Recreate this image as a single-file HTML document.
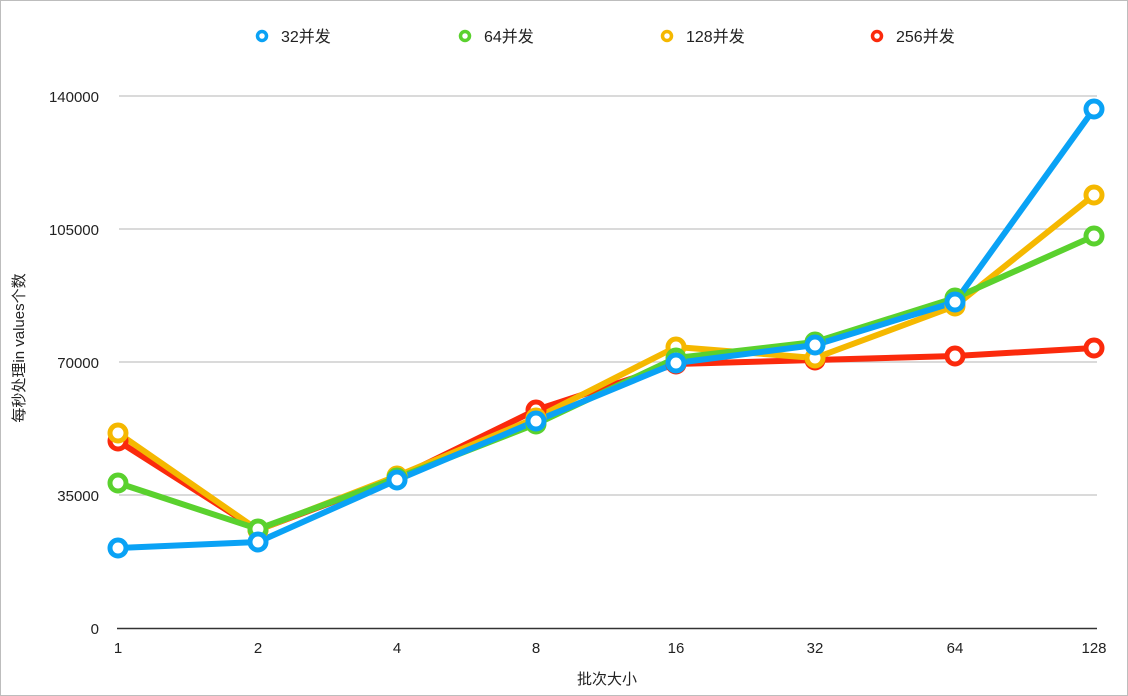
<!DOCTYPE html>
<html><head><meta charset="utf-8"><style>
html,body{margin:0;padding:0;background:#fff}
svg{display:block}
text{font-family:"Liberation Sans","Noto Sans CJK SC",sans-serif;fill:#222}
</style></head><body>
<svg width="1128" height="696" viewBox="0 0 1128 696">
<rect x="0.5" y="0.5" width="1127" height="695" fill="#fff" stroke="#bdbdbd"/>
<g stroke="#c4c4c4" stroke-width="1.2">
<line x1="119" y1="96" x2="1097" y2="96"/>
<line x1="119" y1="229" x2="1097" y2="229"/>
<line x1="119" y1="362" x2="1097" y2="362"/>
<line x1="119" y1="495" x2="1097" y2="495"/>
</g>
<line x1="117" y1="628.5" x2="1097" y2="628.5" stroke="#333" stroke-width="1.5"/>
<g font-size="15" text-anchor="end">
<text x="99" y="102">140000</text>
<text x="99" y="235">105000</text>
<text x="99" y="368">70000</text>
<text x="99" y="501">35000</text>
<text x="99" y="634">0</text>
</g>
<g font-size="15" text-anchor="middle">
<text x="118" y="653">1</text><text x="258" y="653">2</text><text x="397" y="653">4</text><text x="536" y="653">8</text>
<text x="676" y="653">16</text><text x="815" y="653">32</text><text x="955" y="653">64</text><text x="1094" y="653">128</text>
<text x="607" y="684">批次大小</text>
</g>
<text font-size="15" text-anchor="middle" transform="translate(24,348) rotate(-90)">每秒处理in values个数</text>
<g font-size="16">
<circle cx="262" cy="36" r="4.5" fill="#fff" stroke="#0aa2f5" stroke-width="3.5"/><text x="281" y="42">32并发</text>
<circle cx="465" cy="36" r="4.5" fill="#fff" stroke="#5ad12e" stroke-width="3.5"/><text x="484" y="42">64并发</text>
<circle cx="667" cy="36" r="4.5" fill="#fff" stroke="#f5b800" stroke-width="3.5"/><text x="686" y="42">128并发</text>
<circle cx="877" cy="36" r="4.5" fill="#fff" stroke="#fb2a0c" stroke-width="3.5"/><text x="896" y="42">256并发</text>
</g>
<g fill="none" stroke-width="6" stroke-linejoin="round">
<polyline stroke="#fb2a0c" points="118,441 258,530 397,478 536,410 676,364 815,360 955,356 1094,348"/>
<polyline stroke="#f5b800" points="118,433 258,530 397,476 536,418 676,347 815,358 955,306 1094,195"/>
<polyline stroke="#5ad12e" points="118,483 258,529 397,478 536,424 676,358 815,342 955,298 1094,236"/>
<polyline stroke="#0aa2f5" points="118,548 258,542 397,480 536,421 676,363 815,345 955,302 1094,109"/>
</g>
<g fill="#fff" stroke-width="5">
<g stroke="#fb2a0c"><circle cx="118" cy="441" r="8"/><circle cx="258" cy="530" r="8"/><circle cx="397" cy="478" r="8"/><circle cx="536" cy="410" r="8"/><circle cx="676" cy="364" r="8"/><circle cx="815" cy="360" r="8"/><circle cx="955" cy="356" r="8"/><circle cx="1094" cy="348" r="8"/></g>
<g stroke="#f5b800"><circle cx="118" cy="433" r="8"/><circle cx="258" cy="530" r="8"/><circle cx="397" cy="476" r="8"/><circle cx="536" cy="418" r="8"/><circle cx="676" cy="347" r="8"/><circle cx="815" cy="358" r="8"/><circle cx="955" cy="306" r="8"/><circle cx="1094" cy="195" r="8"/></g>
<g stroke="#5ad12e"><circle cx="118" cy="483" r="8"/><circle cx="258" cy="529" r="8"/><circle cx="397" cy="478" r="8"/><circle cx="536" cy="424" r="8"/><circle cx="676" cy="358" r="8"/><circle cx="815" cy="342" r="8"/><circle cx="955" cy="298" r="8"/><circle cx="1094" cy="236" r="8"/></g>
<g stroke="#0aa2f5"><circle cx="118" cy="548" r="8"/><circle cx="258" cy="542" r="8"/><circle cx="397" cy="480" r="8"/><circle cx="536" cy="421" r="8"/><circle cx="676" cy="363" r="8"/><circle cx="815" cy="345" r="8"/><circle cx="955" cy="302" r="8"/><circle cx="1094" cy="109" r="8"/></g>
</g>
</svg>
</body></html>
